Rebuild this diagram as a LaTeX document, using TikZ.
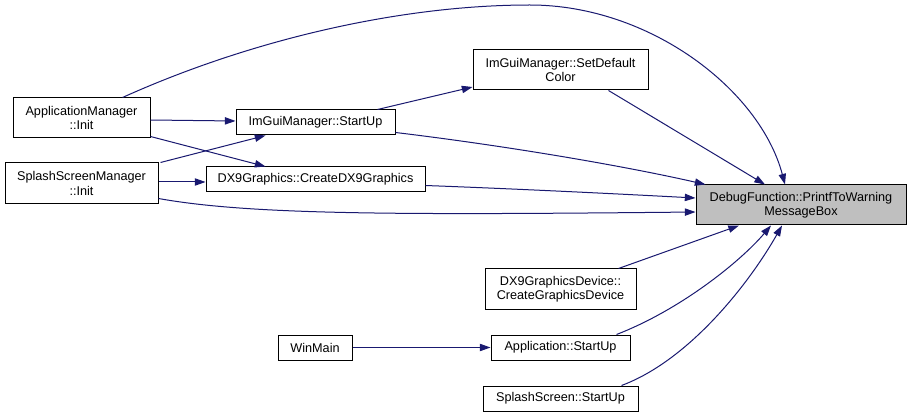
\documentclass[tikz,border=0pt]{standalone}
\usepackage{fontspec}
\setmainfont{Liberation Sans}
\usetikzlibrary{arrows.meta,calc}
\definecolor{edgeblue}{HTML}{191970}
\begin{document}
\begin{tikzpicture}[x=0.75pt,y=-0.75pt,
  fn/.style={draw=black,line width=0.75pt,fill=white,inner sep=0pt,align=center,
    font=\fontsize{9.5}{10.8}\selectfont},
  edge/.style={draw=edgeblue,line width=0.75pt,-{Triangle[length=8pt,width=5.5pt]}}]
\useasboundingbox[fill=white] (0,0) rectangle (911,417);
\node[fn,minimum width=137*0.75pt,minimum height=40*0.75pt] (am) at (81.5,118) {ApplicationManager\\::Init};
\node[fn,minimum width=153*0.75pt,minimum height=41*0.75pt] (ssm) at (81.5,183.5) {SplashScreenManager\\::Init};
\node[fn,minimum width=159*0.75pt,minimum height=25*0.75pt] (igs) at (315.5,122.5) {ImGuiManager::StartUp};
\node[fn,minimum width=219*0.75pt,minimum height=25*0.75pt] (dx9) at (315.5,179.5) {DX9Graphics::CreateDX9Graphics};
\node[fn,minimum width=175*0.75pt,minimum height=40*0.75pt] (sdc) at (560.5,70) {ImGuiManager::SetDefault\\Color};
\node[fn,fill=black!25,minimum width=210*0.75pt,minimum height=40*0.75pt] (dbg) at (801,205) {DebugFunction::PrintfToWarning\\MessageBox};
\node[fn,minimum width=151*0.75pt,minimum height=40*0.75pt] (dev) at (560.5,289) {DX9GraphicsDevice::\\CreateGraphicsDevice};
\node[fn,minimum width=74*0.75pt,minimum height=25*0.75pt] (wm) at (315,347.5) {WinMain};
\node[fn,minimum width=139*0.75pt,minimum height=25*0.75pt] (app) at (560.5,347.5) {Application::StartUp};
\node[fn,minimum width=155*0.75pt,minimum height=25*0.75pt] (ss) at (560.5,398.5) {SplashScreen::StartUp};

% edges into DebugFunction
\draw[edge] ($(am.north)+(41,0)$) .. controls (250,40) and (400,5) .. (530,5)
  .. controls (650,5) and (760,90) .. ($(dbg.north)+(-16,0)$);
\draw[edge] ($(sdc.south)+(48,0)$) -- ($(dbg.north)+(-36,0)$);
\draw[edge] ($(igs.east)+(0,10)$) .. controls (500,145) and (620,165) .. ($(dbg.north west)+(10,0)$);
\draw[edge] ($(dx9.east)+(0,6)$) .. controls (520,189) and (620,194) .. ($(dbg.west)+(0,-7)$);
\draw[edge] ($(ssm.east)+(0,15)$) .. controls (250,215) and (400,215) .. ($(dbg.west)+(0,7)$);
\draw[edge] ($(dev.north)+(58,0)$) -- ($(dbg.south)+(-62,0)$);
\draw[edge] ($(app.north)+(56,0)$) .. controls (680,310) and (740,262) .. ($(dbg.south)+(-30,0)$);
\draw[edge] ($(ss.north)+(61,0)$) .. controls (690,360) and (750,282) .. ($(dbg.south)+(-19,0)$);

% other edges
\draw[edge] ($(am.east)+(0,2)$) -- ($(igs.west)+(0,-1.5)$);
\draw[edge] ($(am.south east)+(0,-2)$) -- ($(dx9.north west)+(60,0)$);
\draw[edge] ($(ssm.north east)+(2,0)$) -- ($(igs.south west)+(30,0)$);
\draw[edge] ($(ssm.east)+(0,-1.5)$) -- ($(dx9.west)+(0,2.5)$);
\draw[edge] ($(igs.north)+(62,0)$) -- ($(sdc.west)+(0,17)$);
\draw[edge] (wm.east) -- (app.west);
\end{tikzpicture}
\end{document}
